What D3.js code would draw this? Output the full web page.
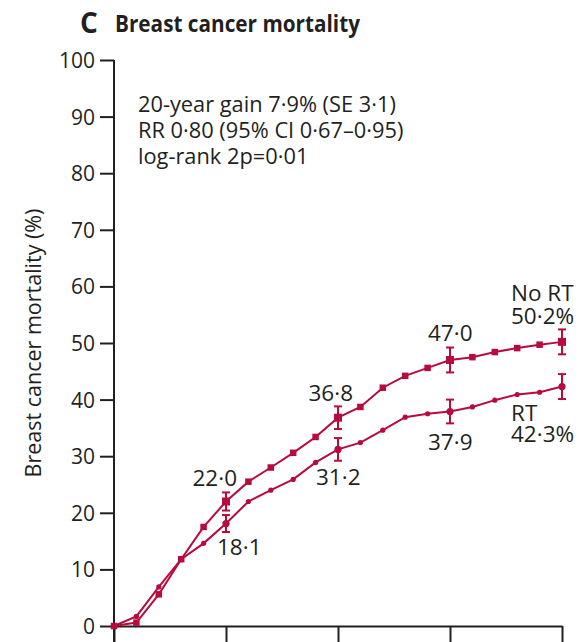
<!DOCTYPE html>
<html>
<head>
<meta charset="utf-8">
<script src="https://cdn.jsdelivr.net/npm/d3@7"></script>
<style>
  html, body { margin: 0; padding: 0; background: #fff; }
  svg { display: block; }
  text { font-family: "Open Sans", "Noto Sans", sans-serif; fill: #231f20; }
</style>
</head>
<body>
<svg id="chart" width="586" height="642"></svg>
<script>
// Cumulative breast cancer mortality (%) by year since randomisation
const years = d3.range(0, 21);
const noRt = [0, 0.6, 5.6, 11.8, 17.5, 22.0, 25.5, 28.0, 30.6, 33.4, 36.8, 38.7, 42.1, 44.2, 45.6, 47.0, 47.5, 48.4, 49.1, 49.7, 50.2];
const rt   = [0, 1.7, 6.9, 11.8, 14.6, 18.1, 22.0, 24.0, 25.9, 28.9, 31.2, 32.4, 34.6, 36.9, 37.5, 37.9, 38.7, 39.9, 40.9, 41.3, 42.3];

// Years with ±1 SE bars
const seYears = [5, 10, 15, 20];
const noRtSe = [1.6, 2.0, 2.2, 2.2];
const rtSe   = [1.5, 2.0, 2.1, 2.2];

const yTicks = d3.range(0, 101, 10);
const xTicks = [0, 5, 10, 15, 20];

const statLines = [
  "20-year gain 7·9% (SE 3·1)",
  "RR 0·80 (95% CI 0·67–0·95)",
  "log-rank 2p=0·01"
];

const ink = "#231f20";
const red = "#b80a3c";
const fmt = v => d3.format(".1f")(v).replace(".", "·");

const svg = d3.select("#chart");
const x = d3.scaleLinear().domain([0, 20]).range([114, 562]);
const y = d3.scaleLinear().domain([0, 100]).range([626, 60]);

// Title
svg.append("text").attr("x", 80).attr("y", 33)
  .attr("font-size", 28).attr("font-weight", 700).text("C");
svg.append("text").attr("x", 115).attr("y", 32)
  .attr("font-size", 23).attr("font-weight", 700)
  .attr("textLength", 245).attr("lengthAdjust", "spacingAndGlyphs")
  .text("Breast cancer mortality");

// Y axis
const yAxis = svg.append("g").attr("transform", `translate(${x(0)},0)`)
  .call(d3.axisLeft(y).tickValues(yTicks).tickSize(14).tickSizeOuter(0).tickPadding(5));
yAxis.select(".domain").attr("stroke", ink).attr("stroke-width", 2)
  .attr("d", `M0,${y(100)}V642`);
yAxis.selectAll(".tick line").attr("stroke", ink).attr("stroke-width", 2);
yAxis.selectAll(".tick text").attr("font-size", 21)
  .attr("font-family", '"Open Sans", sans-serif').attr("fill", ink).attr("dy", "0.36em");

// X axis (tick marks only)
const xAxis = svg.append("g").attr("transform", `translate(0,${y(0)})`)
  .call(d3.axisBottom(x).tickValues(xTicks).tickSize(18).tickSizeOuter(0).tickFormat(""));
xAxis.select(".domain").attr("stroke", ink).attr("stroke-width", 2);
xAxis.selectAll(".tick line").attr("stroke", ink).attr("stroke-width", 2);

// Y axis title
svg.append("text")
  .attr("transform", `translate(41,${(y(0) + y(100)) / 2}) rotate(-90)`)
  .attr("text-anchor", "middle").attr("font-size", 21.5)
  .text("Breast cancer mortality (%)");

// Statistics block
const stats = svg.append("text").attr("font-size", 21.8).attr("x", 138).attr("y", 111.5);
statLines.forEach((s, i) => stats.append("tspan")
  .attr("x", 138).attr("dy", i ? 26 : 0).text(s));

// Curves
const line = d3.line().x((d, i) => x(years[i])).y(d => y(d));
svg.append("path").datum(noRt).attr("d", line)
  .attr("fill", "none").attr("stroke", red).attr("stroke-width", 2);
svg.append("path").datum(rt).attr("d", line)
  .attr("fill", "none").attr("stroke", red).attr("stroke-width", 2);

// Error bars
function bars(vals, se) {
  const g = svg.append("g").attr("stroke", red).attr("stroke-width", 2);
  seYears.forEach((yr, k) => {
    const v = vals[years.indexOf(yr)];
    const cx = x(yr), lo = y(v - se[k]), hi = y(v + se[k]);
    g.append("line").attr("x1", cx).attr("x2", cx).attr("y1", lo).attr("y2", hi);
    g.append("line").attr("x1", cx - 4).attr("x2", cx + 4).attr("y1", lo).attr("y2", lo);
    g.append("line").attr("x1", cx - 4).attr("x2", cx + 4).attr("y1", hi).attr("y2", hi);
  });
}
bars(noRt, noRtSe);
bars(rt, rtSe);

// Markers
const big = i => seYears.includes(years[i]);
svg.append("g").selectAll("rect").data(noRt).join("rect")
  .attr("width", (d, i) => big(i) ? 8 : 6.5)
  .attr("height", (d, i) => big(i) ? 8 : 6.5)
  .attr("x", (d, i) => x(years[i]) - (big(i) ? 4 : 3.25))
  .attr("y", (d, i) => y(d) - (big(i) ? 4 : 3.25))
  .attr("fill", red);
svg.append("g").selectAll("circle").data(rt).join("circle")
  .attr("cx", (d, i) => x(years[i])).attr("cy", d => y(d))
  .attr("r", (d, i) => big(i) ? 3.6 : 2.6)
  .attr("fill", red);

// Value labels next to the SE bars
const at = yr => years.indexOf(yr);
const labels = [
  { t: fmt(noRt[at(5)]),  yr: 5,  v: noRt[at(5)],  dx: 11,  dy: -15.5, a: "end" },
  { t: fmt(rt[at(5)]),    yr: 5,  v: rt[at(5)],    dx: -9,  dy: 31.5,  a: "start" },
  { t: fmt(noRt[at(10)]), yr: 10, v: noRt[at(10)], dx: 15,  dy: -16.5, a: "end" },
  { t: fmt(rt[at(10)]),   yr: 10, v: rt[at(10)],   dx: -22, dy: 35.5,  a: "start" },
  { t: fmt(noRt[at(15)]), yr: 15, v: noRt[at(15)], dx: -22, dy: -18.5, a: "start" },
  { t: fmt(rt[at(15)]),   yr: 15, v: rt[at(15)],   dx: -22, dy: 38.5,  a: "start" }
];
svg.append("g").selectAll("text").data(labels).join("text")
  .attr("x", d => x(d.yr) + d.dx).attr("y", d => y(d.v) + d.dy)
  .attr("text-anchor", d => d.a).attr("font-size", 22.5).text(d => d.t);

// End-of-curve group labels (name above/below the 20-year value)
function endLabel(lines, v, firstDy, step) {
  const t = svg.append("text").attr("font-size", 22.5)
    .attr("x", x(20) - 51).attr("y", y(v) + firstDy);
  lines.forEach((s, i) => t.append("tspan")
    .attr("x", x(20) - 51).attr("dy", i ? step : 0).text(s));
}
endLabel(["No RT", fmt(noRt[at(20)]) + "%"], noRt[at(20)], -41, 23);
endLabel(["RT", fmt(rt[at(20)]) + "%"], rt[at(20)], 34.5, 21);
</script>
</body>
</html>
